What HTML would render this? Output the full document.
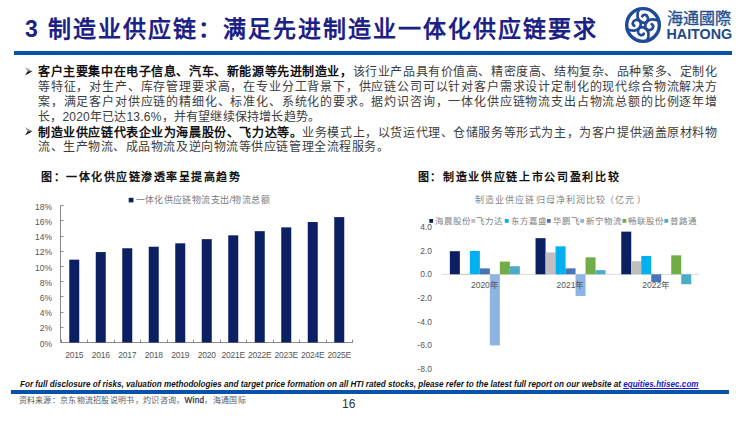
<!DOCTYPE html>
<html lang="zh-CN"><head><meta charset="utf-8">
<style>
*{margin:0;padding:0;box-sizing:border-box}
html,body{width:750px;height:422px;overflow:hidden;background:#fff}
body{position:relative;font-family:"Liberation Sans",sans-serif;color:#333}
.abs{position:absolute;white-space:nowrap}
.title{left:25px;top:14px;font-size:23px;line-height:30px;color:#1c2285;font-weight:bold;letter-spacing:2px}
.hr{position:absolute;background:#0853aa}
.ln{position:absolute;left:38px;width:679px;font-size:12px;line-height:15px;height:15px;color:#3c3c3c;text-align:justify;text-align-last:justify;white-space:nowrap}
.ln.l{text-align:left;text-align-last:left}
.b{font-weight:bold;color:#111}
.arrow{position:absolute;left:25px;width:8px;height:8px}
.figt{position:absolute;font-size:11px;line-height:14px;font-weight:bold;color:#111;letter-spacing:1.53px;white-space:nowrap}
.ax{position:absolute;font-size:8.5px;line-height:12px;color:#555;white-space:nowrap}
.disc{position:absolute;left:20px;top:378.5px;line-height:12px;font-size:8.15px;font-weight:bold;font-style:italic;color:#111;white-space:nowrap;transform-origin:0 0}
</style></head><body>

<div class="abs title">3 制造业供应链：满足先进制造业一体化供应链要求</div>
<div class="hr" style="left:14px;top:51.2px;width:718px;height:4px"></div>

<!-- logo -->
<svg class="abs" style="left:624px;top:5.7px" width="38" height="38" viewBox="0 0 100 100">
  <circle cx="50" cy="50" r="43" fill="none" stroke="#1f4a98" stroke-width="9"/>
  <g fill="none" stroke="#1f4a98" stroke-width="7" stroke-linecap="round">
    <path d="M40 8 C32 22 34 38 47 43 C57 47 65 40 63 31 C61 23 52 20 48 27" transform="rotate(0 50 50)"/><path d="M40 8 C32 22 34 38 47 43 C57 47 65 40 63 31 C61 23 52 20 48 27" transform="rotate(90 50 50)"/><path d="M40 8 C32 22 34 38 47 43 C57 47 65 40 63 31 C61 23 52 20 48 27" transform="rotate(180 50 50)"/><path d="M40 8 C32 22 34 38 47 43 C57 47 65 40 63 31 C61 23 52 20 48 27" transform="rotate(270 50 50)"/>
  </g>
</svg>
<div class="abs" style="left:667px;top:8.7px;font-size:16px;line-height:20px;color:#24508f;letter-spacing:0.1px;-webkit-text-stroke:0.35px #24508f">海通國際</div>
<div class="abs" style="left:666.5px;top:25.7px;font-size:14.3px;line-height:16px;color:#1e4a8a;font-weight:bold">HAITONG</div>

<!-- bullets -->
<svg class="arrow" style="top:67.1px;width:7.5px;height:8.6px" viewBox="0 0 10 10" preserveAspectRatio="none"><path d="M0 0 L10 5 L3.6 5 Z" fill="#9a9a9a"/><path d="M3.6 5 L10 5 L0 10 Z" fill="#111"/></svg>
<div class="ln" style="top:64.7px"><span class="b">客户主要集中在电子信息、汽车、新能源等先进制造业，</span>该行业产品具有价值高、精密度高、结构复杂、品种繁多、定制化</div>
<div class="ln" style="top:79.7px">等特征，对生产、库存管理要求高，在专业分工背景下，供应链公司可以针对客户需求设计定制化的现代综合物流解决方</div>
<div class="ln" style="top:94.7px">案，满足客户对供应链的精细化、标准化、系统化的要求。据灼识咨询，一体化供应链物流支出占物流总额的比例逐年增</div>
<div class="ln l" style="top:109.7px;letter-spacing:0.2px">长，2020年已达13.6%，并有望继续保持增长趋势。</div>
<svg class="arrow" style="top:127px;width:7.5px;height:8.6px" viewBox="0 0 10 10" preserveAspectRatio="none"><path d="M0 0 L10 5 L3.6 5 Z" fill="#9a9a9a"/><path d="M3.6 5 L10 5 L0 10 Z" fill="#111"/></svg>
<div class="ln" style="top:125.5px"><span class="b">制造业供应链代表企业为海晨股份、飞力达等。</span>业务模式上，以货运代理、仓储服务等形式为主，为客户提供涵盖原材料物</div>
<div class="ln l" style="top:139.8px;letter-spacing:0.55px">流、生产物流、成品物流及逆向物流等供应链管理全流程服务。</div>

<!-- figure titles -->
<div class="figt" style="left:41px;top:170px">图：一体化供应链渗透率呈提高趋势</div>
<div class="figt" style="left:417.5px;top:170px;letter-spacing:1.68px">图：制造业供应链上市公司盈利比较</div>

<!-- left chart -->
<svg class="abs" style="left:0;top:0" width="375" height="370">
  <rect x="128.7" y="197.8" width="4.8" height="4.6" fill="#0b2063"/>
  <g stroke="#8c8c8c" stroke-width="1" fill="none"><line x1="60.5" y1="205.5" x2="60.5" y2="343"/><line x1="60.5" y1="342.5" x2="353" y2="342.5"/></g><g id="yticks" stroke="#8c8c8c" stroke-width="1"><line x1="60.5" y1="342.5" x2="63.5" y2="342.5"/><line x1="60.5" y1="327.5" x2="63.5" y2="327.5"/><line x1="60.5" y1="312.5" x2="63.5" y2="312.5"/><line x1="60.5" y1="296.5" x2="63.5" y2="296.5"/><line x1="60.5" y1="281.5" x2="63.5" y2="281.5"/><line x1="60.5" y1="266.5" x2="63.5" y2="266.5"/><line x1="60.5" y1="251.5" x2="63.5" y2="251.5"/><line x1="60.5" y1="236.5" x2="63.5" y2="236.5"/><line x1="60.5" y1="220.5" x2="63.5" y2="220.5"/><line x1="60.5" y1="205.5" x2="63.5" y2="205.5"/></g>
  <g id="lbars" fill="#0b2063"><rect x="69.25" y="259.66" width="10.0" height="82.84"/><rect x="95.75" y="252.06" width="10.0" height="90.44"/><rect x="122.25" y="248.26" width="10.0" height="94.24"/><rect x="148.75" y="246.74" width="10.0" height="95.76"/><rect x="175.25" y="243.32" width="10.0" height="99.18"/><rect x="201.75" y="239.14" width="10.0" height="103.36"/><rect x="228.25" y="235.34" width="10.0" height="107.16"/><rect x="254.75" y="231.16" width="10.0" height="111.34"/><rect x="281.25" y="227.36" width="10.0" height="115.14"/><rect x="307.75" y="222.04" width="10.0" height="120.46"/><rect x="334.25" y="217.10" width="10.0" height="125.40"/></g>
  <g id="lticks" stroke="#8c8c8c" stroke-width="1"><line x1="61.5" y1="339.5" x2="61.5" y2="342.5"/><line x1="87.5" y1="339.5" x2="87.5" y2="342.5"/><line x1="114.5" y1="339.5" x2="114.5" y2="342.5"/><line x1="140.5" y1="339.5" x2="140.5" y2="342.5"/><line x1="167.5" y1="339.5" x2="167.5" y2="342.5"/><line x1="193.5" y1="339.5" x2="193.5" y2="342.5"/><line x1="220.5" y1="339.5" x2="220.5" y2="342.5"/><line x1="246.5" y1="339.5" x2="246.5" y2="342.5"/><line x1="273.5" y1="339.5" x2="273.5" y2="342.5"/><line x1="299.5" y1="339.5" x2="299.5" y2="342.5"/><line x1="326.5" y1="339.5" x2="326.5" y2="342.5"/><line x1="352.5" y1="339.5" x2="352.5" y2="342.5"/></g>
</svg>
<div class="ax" style="left:135.5px;top:193.5px;font-size:9px;line-height:13px;color:#7a7a7a;letter-spacing:0.4px">一体化供应链物流支出/物流总额</div>
<div class="ax yl" style="left:20px;width:32px;text-align:right;top:337.5px">0%</div><div class="ax yl" style="left:20px;width:32px;text-align:right;top:322.3px">2%</div><div class="ax yl" style="left:20px;width:32px;text-align:right;top:307.1px">4%</div><div class="ax yl" style="left:20px;width:32px;text-align:right;top:291.9px">6%</div><div class="ax yl" style="left:20px;width:32px;text-align:right;top:276.7px">8%</div><div class="ax yl" style="left:20px;width:32px;text-align:right;top:261.5px">10%</div><div class="ax yl" style="left:20px;width:32px;text-align:right;top:246.3px">12%</div><div class="ax yl" style="left:20px;width:32px;text-align:right;top:231.1px">14%</div><div class="ax yl" style="left:20px;width:32px;text-align:right;top:215.9px">16%</div><div class="ax yl" style="left:20px;width:32px;text-align:right;top:200.7px">18%</div>
<div class="ax xl" style="left:54.2px;top:349px;width:40px;text-align:center;letter-spacing:-0.22px">2015</div><div class="ax xl" style="left:80.8px;top:349px;width:40px;text-align:center;letter-spacing:-0.22px">2016</div><div class="ax xl" style="left:107.2px;top:349px;width:40px;text-align:center;letter-spacing:-0.22px">2017</div><div class="ax xl" style="left:133.8px;top:349px;width:40px;text-align:center;letter-spacing:-0.22px">2018</div><div class="ax xl" style="left:160.2px;top:349px;width:40px;text-align:center;letter-spacing:-0.22px">2019</div><div class="ax xl" style="left:186.8px;top:349px;width:40px;text-align:center;letter-spacing:-0.22px">2020</div><div class="ax xl" style="left:213.2px;top:349px;width:40px;text-align:center;letter-spacing:-0.22px">2021E</div><div class="ax xl" style="left:239.8px;top:349px;width:40px;text-align:center;letter-spacing:-0.22px">2022E</div><div class="ax xl" style="left:266.2px;top:349px;width:40px;text-align:center;letter-spacing:-0.22px">2023E</div><div class="ax xl" style="left:292.8px;top:349px;width:40px;text-align:center;letter-spacing:-0.22px">2024E</div><div class="ax xl" style="left:319.2px;top:349px;width:40px;text-align:center;letter-spacing:-0.22px">2025E</div>

<!-- right chart -->
<div class="ax" style="left:475px;top:193.5px;font-size:9px;line-height:13px;color:#858585;letter-spacing:1.1px">制造业供应链归母净利润比较<span style="margin-left:-1.5px">（</span>亿元<span style="margin-left:2px">）</span></div>
<svg class="abs" style="left:0;top:0" width="750" height="380" id="rsvg"><rect x="442.0" y="273.8" width="257.1" height="1" fill="#d9d9d9"/><rect x="449.85" y="251.19" width="10.0" height="23.11" fill="#0b2063"/><rect x="459.85" y="274.30" width="10.0" height="0.59" fill="#bfbfbf"/><rect x="469.85" y="250.96" width="10.0" height="23.34" fill="#00b0f0"/><rect x="479.85" y="268.38" width="10.0" height="5.92" fill="#4a74b8"/><rect x="489.85" y="274.30" width="10.0" height="71.10" fill="#8eb4e3"/><rect x="499.85" y="261.62" width="10.0" height="12.68" fill="#70ad47"/><rect x="509.85" y="266.24" width="10.0" height="8.06" fill="#4bacc6"/><rect x="535.55" y="238.16" width="10.0" height="36.14" fill="#0b2063"/><rect x="545.55" y="252.38" width="10.0" height="21.92" fill="#bfbfbf"/><rect x="555.55" y="246.33" width="10.0" height="27.97" fill="#00b0f0"/><rect x="565.55" y="268.38" width="10.0" height="5.92" fill="#4a74b8"/><rect x="575.55" y="274.30" width="10.0" height="21.69" fill="#8eb4e3"/><rect x="585.55" y="257.35" width="10.0" height="16.95" fill="#70ad47"/><rect x="595.55" y="270.15" width="10.0" height="4.15" fill="#4bacc6"/><rect x="621.25" y="231.64" width="10.0" height="42.66" fill="#0b2063"/><rect x="631.25" y="261.26" width="10.0" height="13.04" fill="#bfbfbf"/><rect x="641.25" y="255.93" width="10.0" height="18.37" fill="#00b0f0"/><rect x="651.25" y="274.30" width="10.0" height="7.70" fill="#4a74b8"/><rect x="671.25" y="255.34" width="10.0" height="18.96" fill="#70ad47"/><rect x="681.25" y="274.30" width="10.0" height="9.95" fill="#4bacc6"/><rect x="429.3" y="219" width="3.8" height="3.8" fill="#0b2063"/><rect x="471.4" y="219" width="3.8" height="3.8" fill="#bfbfbf"/><rect x="504.8" y="219" width="3.8" height="3.8" fill="#00b0f0"/><rect x="546.9" y="219" width="3.8" height="3.8" fill="#4a74b8"/><rect x="580.3" y="219" width="3.8" height="3.8" fill="#8eb4e3"/><rect x="622.5" y="219" width="3.8" height="3.8" fill="#70ad47"/><rect x="664.4" y="219" width="3.8" height="3.8" fill="#4bacc6"/></svg><div class="ax lg" style="left:434.7px;top:214.5px;color:#808080">海晨股份</div><div class="ax lg" style="left:476.4px;top:214.5px;color:#808080">飞力达</div><div class="ax lg" style="left:510.9px;top:214.5px;color:#808080">东方嘉盛</div><div class="ax lg" style="left:553.0px;top:214.5px;color:#808080">华鹏飞</div><div class="ax lg" style="left:585.9px;top:214.5px;color:#808080">新宁物流</div><div class="ax lg" style="left:627.7px;top:214.5px;color:#808080">畅联股份</div><div class="ax lg" style="left:669.5px;top:214.5px;color:#808080">普路通</div><div class="ax yl" style="left:400px;width:32px;text-align:right;top:220.9px">4.0</div><div class="ax yl" style="left:400px;width:32px;text-align:right;top:244.6px">2.0</div><div class="ax yl" style="left:400px;width:32px;text-align:right;top:268.3px">0.0</div><div class="ax yl" style="left:400px;width:32px;text-align:right;top:292.0px">-2.0</div><div class="ax yl" style="left:400px;width:32px;text-align:right;top:315.7px">-4.0</div><div class="ax yl" style="left:400px;width:32px;text-align:right;top:339.4px">-6.0</div><div class="ax yl" style="left:400px;width:32px;text-align:right;top:363.1px">-8.0</div><div class="ax xl" style="left:459.9px;top:279px;width:50px;text-align:center">2020年</div><div class="ax xl" style="left:545.5px;top:279px;width:50px;text-align:center">2021年</div><div class="ax xl" style="left:631.2px;top:279px;width:50px;text-align:center">2022年</div>

<!-- footer -->
<div class="disc">For full disclosure of risks, valuation methodologies and target price formation on all HTI rated stocks, please refer to the latest full report on our website at <span style="color:#1a1acc;text-decoration:underline">equities.htisec.com</span></div>
<div class="hr" style="left:11px;top:390px;width:718px;height:4px"></div>
<div class="abs" style="left:18.5px;top:395px;font-size:8px;line-height:12px;color:#5a5a5a;letter-spacing:0.3px">资料来源：京东物流招股说明书，灼识咨询，<span style="font-size:8.2px;color:#333;-webkit-text-stroke:0.25px #333">Wind</span>，海通国际</div>
<div class="abs" style="left:342px;top:397px;font-size:12px;line-height:14px;color:#333">16</div>

</body></html>
